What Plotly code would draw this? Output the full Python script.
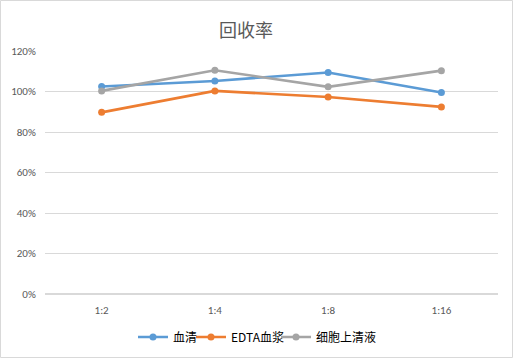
import plotly.graph_objects as go

categories = ["1:2", "1:4", "1:8", "1:16"]
serum = [1.025, 1.052, 1.094, 0.995]
edta_plasma = [0.897, 1.003, 0.973, 0.924]
cell_supernatant = [1.003, 1.105, 1.023, 1.103]
series_names = ["血清", "EDTA血浆", "细胞上清液"]
colors = ["#5B9BD5", "#ED7D31", "#A5A5A5"]
y_ticks = [0, 0.2, 0.4, 0.6, 0.8, 1.0, 1.2]
legend_line_starts = [138, 196, 281]  # px positions of legend entries

W, H = 513, 358
ml, mr, mt, mb = 45, 15, 51, 64

fig = go.Figure()
legend_ids = ["legend", "legend2", "legend3"]
for name, vals, c, lid in zip(series_names, [serum, edta_plasma, cell_supernatant], colors, legend_ids):
    fig.add_trace(go.Scatter(
        x=categories, y=vals, name=name, mode="lines+markers",
        line=dict(color=c, width=2.6), marker=dict(color=c, size=7),
        legend=lid,
    ))

pw = W - ml - mr
ph = H - mt - mb
fig.add_shape(type="rect", xref="paper", yref="paper",
              x0=-ml / pw + 0.5 / pw, x1=1 + (mr - 0.5) / pw,
              y0=-(mb - 0.5) / ph, y1=1 + (mt - 0.5) / ph,
              line=dict(color="#D9D9D9", width=1), layer="below")

font_fam = "Calibri, Carlito, 'Noto Sans CJK SC', sans-serif"
leg_font = dict(size=12, color="#000000", family="'Noto Sans CJK SC', sans-serif")
legends = {}
for lid, xs in zip(legend_ids, legend_line_starts):
    legends[lid] = dict(orientation="h", xref="container", x=(xs - 5) / W, xanchor="left",
                        yref="container", y=1 - 337 / H, yanchor="middle",
                        font=leg_font, itemwidth=30, borderwidth=0,
                        bgcolor="rgba(0,0,0,0)")

fig.update_layout(
    width=W, height=H,
    margin=dict(l=ml, r=mr, t=mt, b=mb, autoexpand=False),
    paper_bgcolor="white", plot_bgcolor="white",
    font=dict(family=font_fam, color="#595959", size=11),
    title=dict(text="回收率", xref="container", x=246 / W, xanchor="center",
               y=1 - 31 / H, yanchor="middle",
               font=dict(size=18, color="#595959", family="'Noto Sans CJK SC', sans-serif")),
    showlegend=True,
    xaxis=dict(type="category", range=[-0.5, 3.5], showgrid=False, showline=False,
               zeroline=False, ticks="outside", ticklen=6, tickcolor="rgba(0,0,0,0)",
               tickfont=dict(size=11, color="#595959")),
    yaxis=dict(range=[0, 1.2], tickvals=y_ticks, tickformat=".0%",
               gridcolor="#D9D9D9", gridwidth=1, zeroline=True, zerolinecolor="#D9D9D9",
               showline=False, ticks="outside", ticklen=6, tickcolor="rgba(0,0,0,0)",
               tickfont=dict(size=11, color="#595959")),
    **legends,
)
fig.write_html("out.html", config={"displayModeBar": False},
               post_script="document.body.style.margin='0';document.body.style.overflow='hidden';")
